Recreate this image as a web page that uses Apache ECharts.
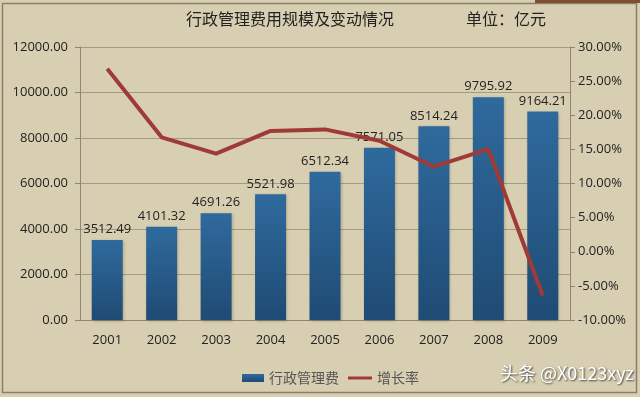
<!DOCTYPE html>
<html><head><meta charset="utf-8">
<script src="https://cdn.jsdelivr.net/npm/echarts@6/dist/echarts.min.js"></script>
<style>html,body{margin:0;padding:0;background:#d8cfb2}#c{width:640px;height:397px}</style>
</head><body><div id="c"></div>
<script>
const years = ['2001','2002','2003','2004','2005','2006','2007','2008','2009'];
const adminCost = [3512.49, 4101.32, 4691.26, 5521.98, 6512.34, 7571.05, 8514.24, 9795.92, 9164.21];
const growthRate = [26.8, 16.76, 14.38, 17.71, 17.93, 16.26, 12.46, 15.05, -6.45];
const seriesNames = ['行政管理费', '增长率'];

const chart = echarts.init(document.getElementById('c'));
chart.setOption({
  backgroundColor: '#d8cfb2',
  animation: false,
  textStyle: { fontFamily: 'Open Sans, Noto Sans CJK SC, sans-serif' },
  graphic: [
    { type: 'rect', shape: { x: 2.5, y: 3.5, width: 634, height: 389 }, style: { fill: 'none', stroke: '#8a8068', lineWidth: 1.5 } },
    { type: 'rect', shape: { x: 535, y: 0, width: 105, height: 3 }, style: { fill: '#7a5030' } },
    { type: 'text', left: 186, top: 11, style: { text: '行政管理费用规模及变动情况', font: '16px "Noto Sans CJK SC"', fill: '#222' } },
    { type: 'text', left: 466, top: 11, style: { text: '单位：亿元', font: '16px "Noto Sans CJK SC"', fill: '#222' } },
    { type: 'text', left: 500, top: 364, style: { text: '头条 @X0123xyz', font: '18px "Noto Sans CJK SC"', fill: '#fff', textShadowColor: 'rgba(0,0,0,0.7)', textShadowBlur: 2, textShadowOffsetX: 1, textShadowOffsetY: 1 } }
  ],
  legend: [
    {
      data: [{ name: seriesNames[0], icon: 'rect' }],
      top: 366, left: 237,
      itemWidth: 22, itemHeight: 8,
      textStyle: { fontSize: 14, color: '#555', fontFamily: 'Noto Sans CJK SC' }
    },
    {
      data: [{ name: seriesNames[1], icon: 'rect' }],
      top: 366, left: 343,
      itemWidth: 24, itemHeight: 3,
      textStyle: { fontSize: 14, color: '#555', fontFamily: 'Noto Sans CJK SC' }
    }
  ],
  grid: { left: 80, right: 70, top: 47, bottom: 77 },
  xAxis: {
    type: 'category', data: years,
    axisLine: { lineStyle: { color: '#8e8670' } },
    axisTick: { show: false },
    axisLabel: { color: '#222', fontSize: 13, margin: 14 }
  },
  yAxis: [
    {
      type: 'value', min: 0, max: 12000, interval: 2000,
      axisLine: { show: true, lineStyle: { color: '#8e8670' } },
      axisTick: { show: true, length: 5, lineStyle: { color: '#8e8670' } },
      axisLabel: { color: '#222', fontSize: 13, margin: 12, formatter: v => v.toFixed(2) },
      splitLine: { lineStyle: { color: '#a39b83', width: 1 } }
    },
    {
      type: 'value', min: -10, max: 30, interval: 5,
      axisLine: { show: true, lineStyle: { color: '#8e8670' } },
      axisTick: { show: true, length: 5, lineStyle: { color: '#8e8670' } },
      axisLabel: { color: '#222', fontSize: 13, margin: 8, formatter: v => v.toFixed(2) + '%' },
      splitLine: { show: false }
    }
  ],
  series: [
    {
      name: seriesNames[0], type: 'bar', data: adminCost, barWidth: 31,
      itemStyle: {
        color: new echarts.graphic.LinearGradient(0, 0, 0, 1, [
          { offset: 0, color: '#2f6a9d' }, { offset: 1, color: '#1f4b74' }
        ]),
        shadowColor: 'rgba(0,0,0,0.25)', shadowBlur: 3, shadowOffsetX: 1, shadowOffsetY: 1
      },
      label: { show: true, position: 'top', color: '#222', fontSize: 13, distance: 4, formatter: p => p.value.toFixed(2) }
    },
    {
      name: seriesNames[1], type: 'line', yAxisIndex: 1, data: growthRate,
      symbol: 'none', lineStyle: { color: '#a03a37', width: 4 },
      itemStyle: { color: '#a03a37' }
    }
  ]
});
</script></body></html>
